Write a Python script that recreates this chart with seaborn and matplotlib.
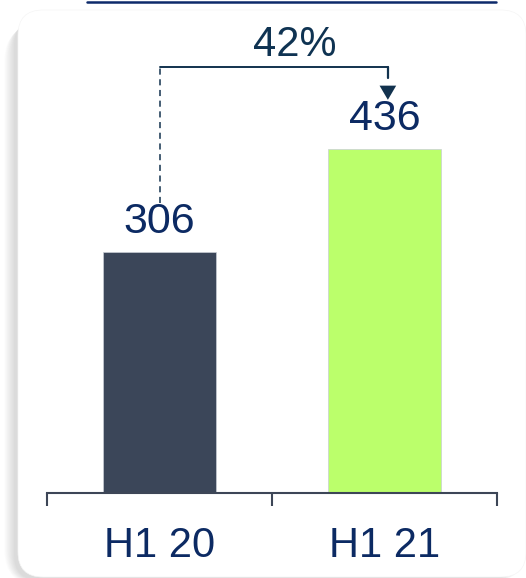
import numpy as np
import pandas as pd
import matplotlib
matplotlib.use("Agg")
import matplotlib.pyplot as plt
from matplotlib.patches import FancyBboxPatch, Polygon
from matplotlib.lines import Line2D
import seaborn as sns

# Chart data
periods = ["H1 20", "H1 21"]
values = [306, 436]
bar_colors = ["#3b4659", "#bbff6b"]

sns.set_theme(style="white")
plt.rcParams["font.family"] = ["Liberation Sans", "DejaVu Sans"]

W, H, DPI = 526, 578, 100
fig = plt.figure(figsize=(W / DPI, H / DPI), dpi=DPI, facecolor="white")

# Rounded card with a soft shadow falling to the lower left (figure pixels)
card_x0, card_y0, card_x1, card_y1 = 18, 1, 526, 568  # y measured from bottom
radius = 25
for i in range(12, 0, -1):
    shadow = FancyBboxPatch(
        ((card_x0 - 3 - i * 0.9) / W, (card_y0 - 3 - i * 0.5) / H),
        (card_x1 - card_x0) / W, (card_y1 - card_y0 - 6) / H,
        boxstyle=f"round,pad=0,rounding_size={(radius + i) / W}",
        transform=fig.transFigure, facecolor="#000000", alpha=0.01,
        edgecolor="none", zorder=0, mutation_aspect=W / H)
    fig.patches.append(shadow)
card = FancyBboxPatch(
    (card_x0 / W, card_y0 / H), (card_x1 - card_x0) / W, (card_y1 - card_y0) / H,
    boxstyle=f"round,pad=0,rounding_size={radius / W}",
    transform=fig.transFigure, facecolor="white", edgecolor="#f5f5f5",
    linewidth=0.5, zorder=1, mutation_aspect=W / H)
fig.patches.append(card)

# Title underline along the top edge
fig.add_artist(Line2D([87 / W, 496 / W], [1 - 1.5 / H, 1 - 1.5 / H],
                      transform=fig.transFigure, color="#0d2a6b", linewidth=1.8))

# Plot area
ax = fig.add_axes([47 / W, 85 / H, 450 / W, 483 / H])
ax.set_facecolor("none")
ax.set_zorder(2)

df = pd.DataFrame({"period": periods, "value": values})
sns.barplot(data=df, x="period", y="value", hue="period", palette=bar_colors,
            width=0.5, legend=False, ax=ax, saturation=1,
            edgecolor="#c9ced6", linewidth=0.5)

ax.set_xlim(-0.5, 1.5)
ax.set_ylim(0, 613)
ax.set_xlabel("")
ax.set_ylabel("")
ax.set_yticks([])
for side in ["top", "left", "right"]:
    ax.spines[side].set_visible(False)
ax.spines["bottom"].set_color("#3d4657")
ax.spines["bottom"].set_linewidth(1.5)

ax.set_xticks([0, 1])
ax.set_xticklabels(periods)
ax.set_xticks([-0.5, 0.5, 1.5], minor=True)
ax.tick_params(axis="x", which="major", length=0, pad=24,
               labelsize=30, labelcolor="#0c2a63")
ax.tick_params(axis="x", which="minor", length=9.5, width=1.5,
               color="#3d4657", direction="out", bottom=True)

# Value labels above the bars
for i, v in enumerate(values):
    ax.annotate(f"{v}", xy=(i, v), xytext=(0, 19), textcoords="offset pixels",
                ha="center", va="baseline", fontsize=31, color="#0c2a63")

# Growth bracket between the two bars
growth = round((values[1] / values[0] - 1) * 100)
bracket_y = 541
arrow_x = 1.015
line_c = "#12324e"
ax.plot([0, 0], [values[0] + 62, bracket_y], color=line_c, linewidth=1.1,
        linestyle=(0, (4, 3)), clip_on=False)
ax.plot([0, arrow_x], [bracket_y, bracket_y], color=line_c, linewidth=1.4,
        clip_on=False)
ax.plot([arrow_x, arrow_x], [bracket_y, bracket_y - 14], color=line_c,
        linewidth=1.6, clip_on=False)
tri = Polygon([[arrow_x - 0.037, bracket_y - 24], [arrow_x + 0.037, bracket_y - 24],
               [arrow_x, bracket_y - 42]], closed=True, facecolor=line_c,
              edgecolor="none", clip_on=False)
ax.add_patch(tri)
ax.text(0.6, bracket_y + 13, f"{growth}%", ha="center", va="baseline",
        fontsize=30, color="#0f3352")

fig.savefig("out.png", dpi=DPI, facecolor="white")
